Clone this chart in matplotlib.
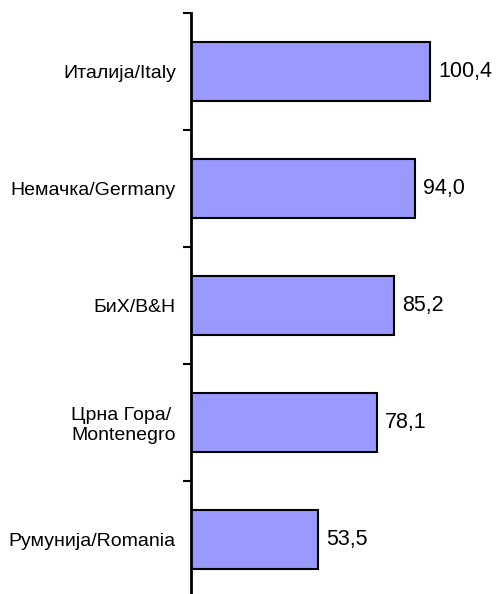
import matplotlib.pyplot as plt
from matplotlib.ticker import FixedLocator

plt.rcParams['font.family'] = ['Liberation Sans', 'DejaVu Sans']

# Data (top to bottom)
countries = ['Италија/Italy', 'Немачка/Germany', 'БиХ/B&H',
             'Црна Гора/\nMontenegro', 'Румунија/Romania']
values = [100.4, 94.0, 85.2, 78.1, 53.5]
value_labels = ['100,4', '94,0', '85,2', '78,1', '53,5']

fig = plt.figure(figsize=(5.01, 5.94), dpi=100)
ax = fig.add_axes([190.5 / 501, -4 / 594, 1 - 190.5 / 501, 585 / 594])

pos = list(range(len(countries)))
ax.barh(pos, values, height=0.5, color='#9999FF', edgecolor='black', linewidth=1.5)

for p, v, lab in zip(pos, values, value_labels):
    ax.text(v + 3.5, p, lab, va='center', ha='left', fontsize=15.5)

ax.set_xlim(0, 130.2)
ax.set_ylim(len(countries) - 0.5, -0.5)

ax.set_yticks(pos)
ax.set_yticklabels(countries, fontsize=14, ha='right')
ax.tick_params(axis='y', which='major', length=0, pad=10.5)
ax.yaxis.set_minor_locator(FixedLocator([i - 0.5 for i in range(len(countries) + 1)]))
ax.tick_params(axis='y', which='minor', length=6, width=1.5, direction='out')

for t in ax.get_yticklabels():
    t.set_multialignment('left')

ax.set_xticks([])
for s in ['top', 'right', 'bottom']:
    ax.spines[s].set_visible(False)
ax.spines['left'].set_linewidth(2)

fig.savefig('out.png', dpi=100)
